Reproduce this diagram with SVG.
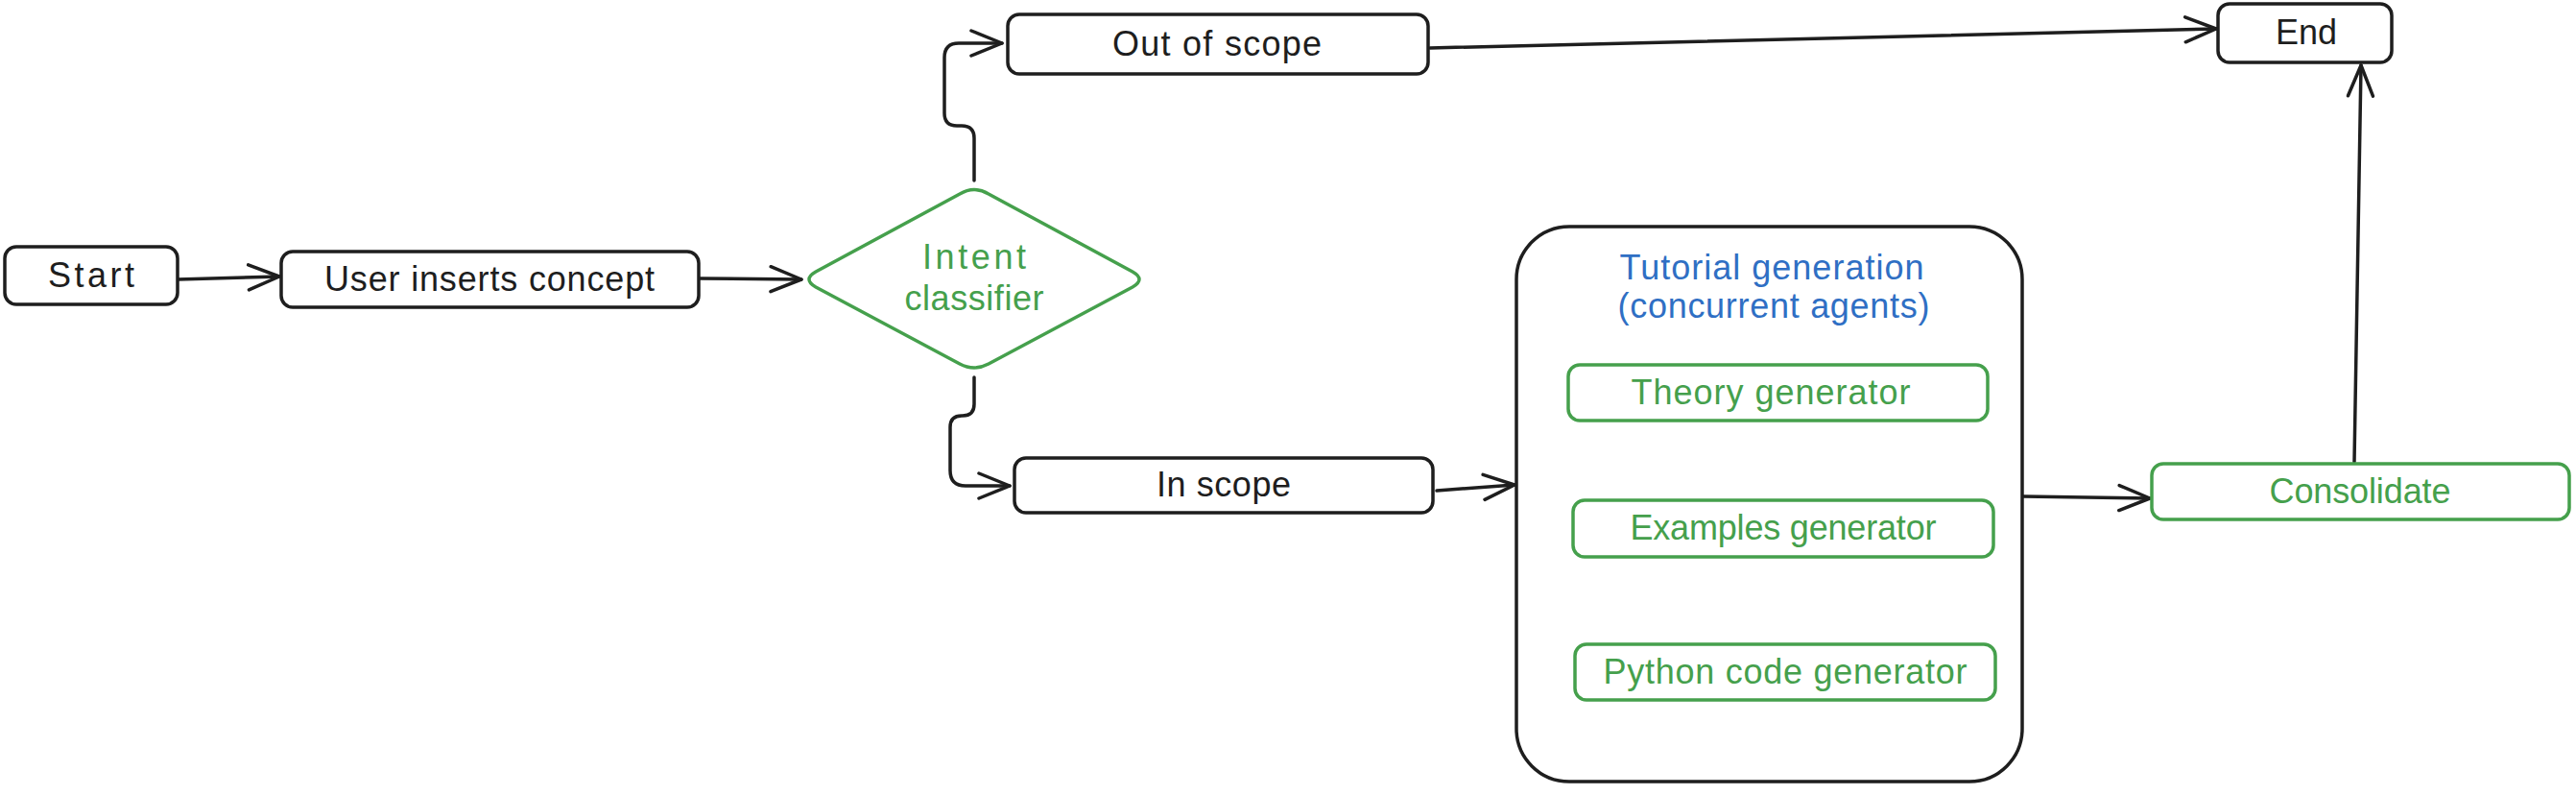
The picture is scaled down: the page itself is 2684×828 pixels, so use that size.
<svg xmlns="http://www.w3.org/2000/svg" width="2684" height="828" viewBox="0 0 2684 828">
<style>
.box{fill:#fff;stroke:#1e1e1e;stroke-width:3.5}
.gbox{fill:#fff;stroke:#45a04c;stroke-width:3.5}
.t{font-family:"Liberation Sans",Arial,sans-serif;font-size:36px;fill:#1e1e1e;text-anchor:middle}
.g{fill:#45a04c}
.b{fill:#2f6fc4}
.c{fill:none;stroke:#1e1e1e;stroke-width:3.5;stroke-linecap:round;stroke-linejoin:round}
</style>
<defs>
<marker id="ah" markerUnits="userSpaceOnUse" viewBox="-38 -20 42 40" refX="0" refY="0" markerWidth="42" markerHeight="40" orient="auto">
<path d="M-32,-13 L0,0 L-32,13" fill="none" stroke="#1e1e1e" stroke-width="3.5" stroke-linecap="round" stroke-linejoin="round"/>
</marker>
</defs>
<rect width="2684" height="828" fill="#fff"/>
<g id="connectors">
<path class="c" d="M185,291 L291,288" marker-end="url(#ah)"/>
<path class="c" d="M729,290 L835,291" marker-end="url(#ah)"/>
<path class="c" d="M1015,188 V144 Q1015,131 1002,131 H997 Q984,131 984,118 V60 Q984,45 999,45 H1044" marker-end="url(#ah)"/>
<path class="c" d="M1015,393 V421 Q1015,433 1003,433 H1002 Q990,433 990,445 V490 Q990,506 1006,506 H1052" marker-end="url(#ah)"/>
<path class="c" d="M1490,50 L2309,30" marker-end="url(#ah)"/>
<path class="c" d="M1497,511 L1578,505" marker-end="url(#ah)"/>
<path class="c" d="M2108,517 L2240,519" marker-end="url(#ah)"/>
<path class="c" d="M2453,481 L2460,68" marker-end="url(#ah)"/>
</g>
<g id="start">
<rect class="box" x="5" y="257" width="180" height="60" rx="12"/>
<text class="t" x="95" y="299" textLength="90" lengthAdjust="spacing">Start</text>
</g>
<g id="user-inserts-concept">
<rect class="box" x="293" y="262" width="435" height="58" rx="12"/>
<text class="t" x="510" y="303" textLength="344" lengthAdjust="spacing">User inserts concept</text>
</g>
<g id="intent-classifier">
<path class="gbox" d="M850,283 L1000,202 Q1015,193 1030,202 L1180,283 Q1194,291 1180,299 L1030,379 Q1015,387 1000,379 L850,299 Q836,291 850,283 Z"/>
<text class="t g" x="1015" y="280" textLength="108" lengthAdjust="spacing">Intent</text>
<text class="t g" x="1015" y="323" textLength="145" lengthAdjust="spacing">classifier</text>
</g>
<g id="out-of-scope">
<rect class="box" x="1050" y="15" width="438" height="62" rx="12"/>
<text class="t" x="1268" y="58" textLength="218" lengthAdjust="spacing">Out of scope</text>
</g>
<g id="end">
<rect class="box" x="2311" y="4" width="181" height="61" rx="12"/>
<text class="t" x="2403" y="46">End</text>
</g>
<g id="in-scope">
<rect class="box" x="1057" y="477" width="436" height="57" rx="12"/>
<text class="t" x="1275" y="517" textLength="140" lengthAdjust="spacing">In scope</text>
</g>
<g id="tutorial-generation">
<rect class="box" x="1580" y="236" width="527" height="578" rx="55"/>
<text class="t b" x="1846" y="291" textLength="317" lengthAdjust="spacing">Tutorial generation</text>
<text class="t b" x="1848" y="331" textLength="325" lengthAdjust="spacing">(concurrent agents)</text>
</g>
<g id="theory-generator">
<rect class="gbox" x="1634" y="380" width="437" height="58" rx="12"/>
<text class="t g" x="1845" y="421" textLength="291" lengthAdjust="spacing">Theory generator</text>
</g>
<g id="examples-generator">
<rect class="gbox" x="1639" y="521" width="438" height="59" rx="12"/>
<text class="t g" x="1858" y="562" textLength="319" lengthAdjust="spacing">Examples generator</text>
</g>
<g id="python-code-generator">
<rect class="gbox" x="1641" y="671" width="438" height="58" rx="12"/>
<text class="t g" x="1860" y="712" textLength="379" lengthAdjust="spacing">Python code generator</text>
</g>
<g id="consolidate">
<rect class="gbox" x="2242" y="483" width="435" height="58" rx="12"/>
<text class="t g" x="2459" y="524" textLength="189" lengthAdjust="spacing">Consolidate</text>
</g>
</svg>
